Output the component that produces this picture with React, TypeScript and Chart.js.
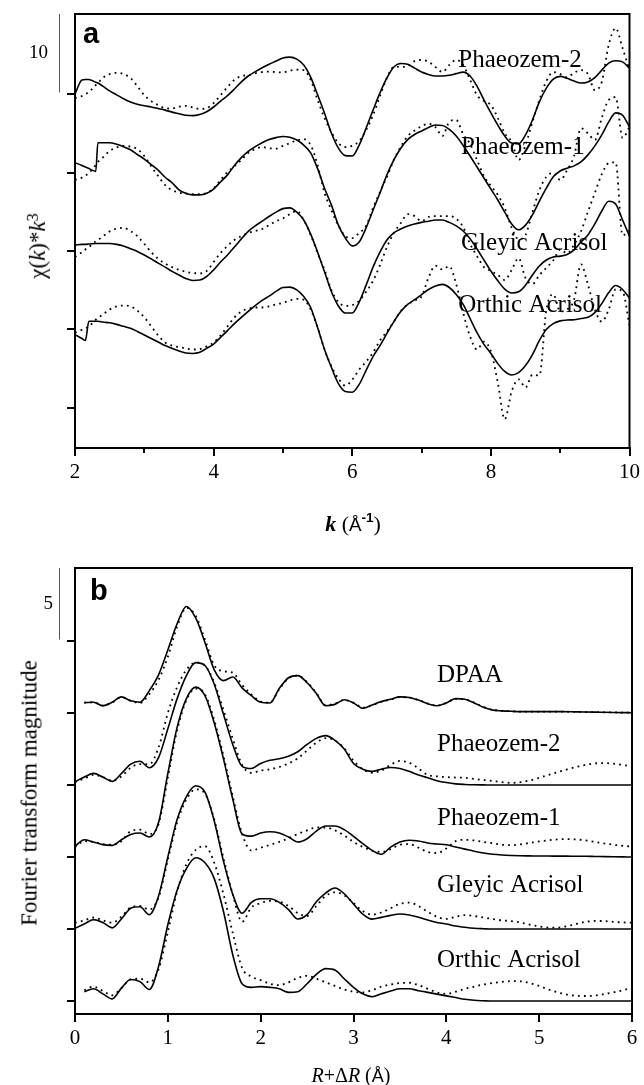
import React, { useEffect, useRef } from 'react';
import { Chart, registerables } from 'chart.js';

Chart.register(...registerables);

const SERIF = '"Liberation Serif", "Times New Roman", serif';
const SANS = '"Liberation Sans", Arial, sans-serif';

// ---------------- Panel a : k-space EXAFS (chi(k)*k^3) ----------------
const kGrid = [
  2.0, 2.1, 2.15, 2.2, 2.3, 2.33, 2.4, 2.5, 2.6, 2.7, 2.8, 2.9,
  3.0, 3.1, 3.2, 3.3, 3.4, 3.5, 3.6, 3.7, 3.8, 3.9,
  4.0, 4.1, 4.2, 4.3, 4.4, 4.5, 4.6, 4.7, 4.8, 4.9,
  5.0, 5.1, 5.2, 5.3, 5.4, 5.5, 5.6, 5.7, 5.8, 5.9,
  6.0, 6.1, 6.2, 6.3, 6.4, 6.5, 6.6, 6.7, 6.8, 6.9,
  7.0, 7.1, 7.2, 7.3, 7.4, 7.5, 7.6, 7.7, 7.8, 7.9,
  8.0, 8.1, 8.2, 8.3, 8.4, 8.5, 8.6, 8.7, 8.8, 8.9,
  9.0, 9.1, 9.2, 9.3, 9.4, 9.5, 9.6, 9.7, 9.8, 9.9,
  10.0,
];

const ph2FitA = [
  0.0, 1.8, 1.85, 1.85, 1.5, 1.4, 1.0, 0.4, -0.1, -0.6, -1.0, -1.3,
  -1.5, -1.65, -1.85, -2.05, -2.3, -2.5, -2.7, -2.75, -2.6, -2.25,
  -1.65, -0.9, -0.2, 0.65, 1.55, 2.3, 2.85, 3.35, 3.8, 4.2,
  4.6, 4.7, 4.45, 3.7, 2.15, -0.1, -2.45, -5.0, -6.9, -7.85,
  -7.9, -6.5, -4.35, -2.05, 0.15, 2.05, 3.45, 3.9, 3.8, 3.3,
  2.8, 2.5, 2.3, 2.3, 2.4, 2.6, 2.8, 2.3, 1.0, -0.75,
  -2.4, -3.95, -5.35, -6.25, -6.35, -5.2, -3.3, -1.0, 0.75, 1.9,
  2.25, 2.0, 1.65, 1.4, 1.55, 2.1, 3.05, 3.95, 4.25, 4.1,
  3.3,
];
const ph2DataA = [
  -0.5, -0.25, 0.0, 0.25, 1.15, 1.4, 2.05, 2.55, 2.7, 2.55, 2.05, 1.0,
  -0.15, -0.9, -1.4, -1.8, -1.85, -1.6, -1.5, -1.7, -1.9, -1.8,
  -1.15, -0.15, 0.9, 1.8, 2.3, 2.4, 2.65, 2.8, 2.85, 2.8,
  2.75, 3.0, 3.1, 3.05, 1.8, -0.75, -3.05, -4.85, -6.25, -6.75,
  -6.6, -6.0, -4.6, -2.7, -0.25, 2.05, 3.45, 3.45, 3.55, 4.2,
  4.35, 4.1, 3.45, 2.8, 3.7, 4.35, 3.7, 1.8, -0.15, -0.9,
  -1.4, -3.05, -5.0, -6.1, -8.4, -6.5, -3.55, -0.75, 1.65, 2.8,
  2.55, 2.15, 2.7, 3.05, 2.55, 0.5, 1.55, 6.25, 8.4, 5.85,
  3.05,
];
const ph1FitA = [
  1.25, 0.9, 0.7, 0.5, 0.15, 3.8, 3.8, 3.8, 3.6, 3.3, 2.9, 2.3,
  1.7, 1.0, 0.3, -0.6, -1.3, -2.2, -2.65, -2.85, -2.85, -2.65,
  -2.1, -1.2, -0.3, 0.9, 1.9, 2.7, 3.3, 3.8, 4.2, 4.45,
  4.6, 4.5, 4.15, 3.5, 2.5, 0.5, -2.0, -4.15, -6.7, -8.35,
  -9.35, -8.85, -7.05, -4.8, -2.6, -0.3, 1.6, 3.1, 4.2, 4.85,
  5.3, 5.75, 6.05, 6.0, 5.5, 4.65, 3.45, 2.1, 0.7, -0.7,
  -2.1, -3.5, -5.05, -6.55, -7.3, -6.7, -5.4, -3.65, -2.0, -0.55,
  0.2, 0.55, 0.85, 1.35, 2.25, 3.4, 4.8, 6.45, 7.6, 7.3,
  5.8,
];
const ph1DataA = [
  -0.95, -0.65, -0.4, -0.05, 0.95, 1.35, 1.9, 2.75, 3.2, 3.4, 3.3, 3.0,
  2.1, 0.8, -0.45, -1.6, -2.25, -2.55, -2.7, -2.75, -2.75, -2.6,
  -2.0, -0.95, 0.05, 0.8, 1.6, 2.5, 3.0, 3.25, 3.1, 3.05,
  3.4, 3.75, 4.1, 4.25, 3.5, 0.95, -2.6, -4.8, -6.8, -8.1,
  -8.35, -7.7, -6.8, -4.5, -2.5, -0.55, 1.6, 3.3, 4.65, 5.35,
  5.9, 6.2, 5.8, 4.65, 6.45, 6.7, 4.9, 3.65, 1.6, -0.45,
  -1.7, -2.85, -4.5, -7.05, -8.5, -7.95, -5.05, -2.25, -0.55, -0.05,
  -0.95, 0.3, 2.1, 5.65, 5.0, 4.15, 6.95, 9.25, 9.6, 4.4,
  5.8,
];
const gleyFitA = [
  0.75, 0.85, 0.85, 0.9, 0.95, 0.95, 0.95, 0.95, 0.85, 0.65, 0.3, -0.05,
  -0.5, -1.0, -1.55, -2.05, -2.6, -3.05, -3.5, -3.75, -3.7, -3.25,
  -2.4, -1.4, -0.5, 0.5, 1.55, 2.5, 3.2, 3.8, 4.4, 4.95,
  5.4, 5.5, 4.95, 3.95, 2.15, -0.15, -2.65, -5.2, -7.0, -7.9,
  -7.9, -6.5, -4.35, -2.05, -0.15, 1.4, 2.3, 2.8, 3.2, 3.45,
  3.65, 3.8, 3.95, 3.95, 3.65, 3.2, 2.55, 1.55, 0.25, -1.15,
  -2.55, -3.8, -4.85, -5.35, -5.2, -4.35, -3.05, -1.9, -1.15, -0.75,
  -0.65, -0.45, 0.15, 1.15, 2.05, 3.45, 5.1, 6.35, 6.0, 3.95,
  1.9,
];
const gleyDataA = [
  -0.75, -0.15, 0.2, 0.5, 1.25, 1.4, 1.85, 2.5, 2.85, 2.95, 2.55, 1.9,
  0.9, -0.15, -1.0, -1.6, -2.05, -2.4, -2.65, -2.8, -2.85, -2.55,
  -1.4, -0.25, 0.65, 1.4, 1.9, 2.3, 2.55, 2.8, 3.3, 3.8,
  4.15, 4.7, 5.1, 3.95, 2.05, -0.25, -2.4, -5.0, -6.5, -7.0,
  -6.9, -6.35, -5.2, -3.8, -1.8, 0.5, 2.3, 3.55, 4.7, 4.45,
  3.8, 4.35, 4.45, 4.45, 4.45, 4.1, 3.05, 0.9, -0.65, -2.05,
  -2.55, -3.05, -3.7, -2.4, -0.9, -3.45, -4.2, -3.05, -2.15, -1.2,
  0.2, -0.3, 0.8, 2.5, 5.0, 7.4, 9.8, 11.2, 11.3, 2.0,
  2.6,
];
const orthFitA = [
  -0.65, -1.15, -1.4, 1.05, 1.05, 1.05, 0.95, 0.85, 0.65, 0.4, 0.15, -0.25,
  -0.7, -1.15, -1.6, -2.05, -2.4, -2.75, -3.0, -3.05, -2.9, -2.4,
  -1.85, -1.0, -0.15, 0.75, 1.55, 2.3, 3.05, 3.7, 4.25, 4.85,
  5.35, 5.4, 5.05, 4.2, 2.8, 0.25, -2.55, -4.85, -6.9, -7.9,
  -8.0, -7.0, -5.2, -3.45, -2.05, -0.5, 1.0, 2.3, 3.2, 3.8,
  4.45, 5.1, 5.55, 5.75, 5.35, 4.45, 3.2, 1.4, -0.4, -1.9,
  -3.05, -4.35, -5.35, -5.8, -5.5, -4.6, -3.2, -1.4, 0.0, 0.75,
  1.1, 1.2, 1.25, 1.4, 1.55, 2.15, 3.3, 4.7, 5.6, 5.1,
  4.0,
];
const orthDataA = [
  -0.4, -0.05, 0.15, 0.4, 1.25, 1.45, 1.9, 2.55, 2.95, 3.05, 2.95, 2.4,
  1.55, 0.4, -0.75, -1.65, -2.05, -2.25, -2.4, -2.55, -2.5, -2.15,
  -1.65, -0.75, 0.4, 1.55, 2.3, 2.65, 2.8, 2.8, 2.95, 3.2,
  3.4, 3.7, 3.9, 3.8, 2.55, 0.25, -2.55, -4.7, -6.25, -7.15,
  -6.4, -5.1, -4.1, -2.95, -1.4, -0.25, 1.0, 2.35, 3.2, 3.7,
  4.2, 6.6, 8.15, 7.65, 8.05, 5.75, 2.15, -0.9, -2.55, -1.55,
  -2.8, -6.75, -11.45, -7.9, -6.35, -7.4, -5.75, -5.85, 2.5, 4.5,
  2.3, 2.55, 3.8, 8.3, 5.75, 2.55, 1.0, 2.55, 5.1, 4.85,
  0.5,
];

const namesA = ['Phaeozem-2', 'Phaeozem-1', 'Gleyic Acrisol', 'Orthic Acrisol'];
const offsetsA = [40, 30, 20, 10];
const labelXA = [7.53, 7.57, 7.57, 7.53];
const labelYA = [44.3, 33.25, 21.0, 13.1];
const yTicksA = [0, 10, 20, 30, 40];
const xMinorA = [3, 5, 7, 9];

// ---------------- Panel b : Fourier transform magnitude ----------------
const rGrid = [
  0.0, 0.1, 0.2, 0.3, 0.4, 0.5, 0.6, 0.7, 0.8, 0.9,
  1.0, 1.1, 1.2, 1.3, 1.4, 1.5, 1.6, 1.7, 1.8, 1.9,
  2.0, 2.1, 2.2, 2.3, 2.4, 2.5, 2.6, 2.7, 2.8, 2.9,
  3.0, 3.1, 3.2, 3.3, 3.4, 3.5, 3.6, 3.7, 3.8, 3.9,
  4.0, 4.1, 4.2, 4.3, 4.4, 4.5, 4.6, 4.7, 4.8, 4.9,
  5.0, 5.1, 5.2, 5.3, 5.4, 5.5, 5.6, 5.7, 5.8, 5.9, 6.0,
];

const dpaaFitB = [
  null, 0.72, 0.75, 0.5, 0.75, 1.12, 0.85, 0.75, 1.55, 2.65,
  4.38, 6.2, 7.4, 6.6, 4.9, 3.0, 2.25, 2.5, 1.75, 1.2,
  0.75, 0.7, 1.7, 2.45, 2.6, 2.1, 1.35, 0.5, 0.6, 0.92,
  0.7, 0.33, 0.55, 0.8, 0.95, 1.12, 1.08, 0.9, 0.65, 0.5,
  0.7, 1.0, 0.95, 0.7, 0.4, 0.2, 0.15, 0.12, 0.1, 0.1,
  0.1, 0.1, 0.1, 0.09, 0.08, 0.07, 0.06, 0.05, 0.04, 0.03, 0.02,
];
const dpaaDataB = [
  null, 0.72, 0.75, 0.52, 0.72, 1.1, 0.85, 0.7, 1.3, 2.3,
  3.9, 6.0, 7.3, 6.75, 5.1, 3.3, 2.9, 2.8, 1.95, 1.3,
  0.8, 0.72, 1.65, 2.4, 2.6, 2.15, 1.4, 0.55, 0.65, 0.9,
  0.72, 0.38, 0.55, 0.78, 0.93, 1.1, 1.08, 0.9, 0.66, 0.52,
  0.7, 0.98, 0.95, 0.72, 0.42, 0.22, 0.15, 0.12, 0.1, 0.1,
  0.1, 0.1, 0.1, 0.09, 0.08, 0.07, 0.06, 0.05, 0.04, 0.03, 0.02,
];
const ph2FitB = [
  0.23, 0.55, 0.81, 0.55, 0.25, 0.8, 1.45, 1.65, 1.2, 1.9,
  3.9, 6.0, 7.6, 8.5, 8.3, 7.0, 4.9, 2.8, 1.3, 1.15,
  1.5, 1.72, 1.82, 2.0, 2.31, 2.82, 3.24, 3.43, 3.1, 2.5,
  1.5, 1.1, 0.95, 1.1, 1.22, 1.15, 0.95, 0.7, 0.5, 0.3,
  0.17, 0.08, 0.04, 0.02, 0.01, 0, 0, 0, 0, 0,
  0, 0, 0, 0, 0, 0, 0, 0, 0, 0, 0,
];
const ph2DataB = [
  0.2, 0.45, 0.7, 0.55, 0.3, 0.6, 1.2, 1.45, 1.45, 2.6,
  5.0, 6.8, 8.0, 8.5, 8.3, 7.1, 5.2, 3.2, 1.4, 0.85,
  1.0, 1.1, 1.25, 1.5, 1.85, 2.4, 2.95, 3.25, 3.1, 2.55,
  1.7, 1.1, 0.85, 1.0, 1.4, 1.67, 1.55, 1.15, 0.7, 0.6,
  0.55, 0.52, 0.5, 0.42, 0.35, 0.28, 0.2, 0.15, 0.2, 0.32,
  0.5, 0.7, 0.9, 1.08, 1.25, 1.4, 1.5, 1.52, 1.48, 1.4, 1.28,
];
const ph1FitB = [
  0.74, 1.2, 1.04, 0.86, 0.81, 1.2, 1.57, 1.67, 1.39, 2.4,
  5.8, 9.0, 11.0, 11.8, 11.2, 9.3, 6.8, 4.0, 1.6, 1.45,
  1.67, 1.76, 1.67, 1.39, 1.04, 1.27, 1.8, 2.15, 2.15, 1.9,
  1.44, 0.93, 0.46, 0.19, 0.69, 1.04, 1.16, 1.11, 0.97, 0.9,
  0.85, 0.7, 0.55, 0.4, 0.28, 0.19, 0.14, 0.11, 0.09, 0.08,
  0.07, 0.07, 0.06, 0.06, 0.05, 0.05, 0.04, 0.03, 0.02, 0.01, 0,
];
const ph1DataB = [
  0.7, 1.1, 1.05, 0.9, 0.85, 1.1, 1.8, 1.9, 1.6, 2.3,
  5.5, 8.8, 10.9, 11.7, 11.3, 9.5, 7.0, 4.2, 1.6, 0.45,
  0.65, 0.85, 1.05, 1.3, 1.6, 1.85, 2.05, 2.05, 1.85, 1.5,
  1.05, 0.7, 0.45, 0.35, 0.55, 0.85, 0.9, 0.65, 0.35, 0.28,
  0.6, 1.1, 1.2, 1.15, 1.05, 0.95, 0.85, 0.82, 0.88, 0.98,
  1.08, 1.17, 1.22, 1.25, 1.22, 1.15, 1.05, 0.95, 0.85, 0.78, 0.72,
];
const gleyFitB = [
  0.05, 0.35, 0.65, 0.45, 0.08, 0.7, 1.45, 1.55, 1.0, 2.3,
  5.0, 7.6, 9.2, 9.95, 9.5, 7.5, 4.7, 2.4, 1.1, 1.85,
  2.1, 2.1, 1.85, 1.35, 0.7, 1.0, 1.9, 2.5, 2.85, 2.45,
  1.74, 1.04, 0.69, 0.81, 0.95, 1.04, 0.98, 0.82, 0.63, 0.46,
  0.35, 0.21, 0.12, 0.05, 0.02, 0, 0, 0, 0, 0,
  0, 0, 0, 0, 0, 0, 0, 0, 0, 0, 0,
];
const gleyDataB = [
  0.44, 0.6, 0.8, 0.6, 0.44, 0.85, 1.5, 1.6, 1.35, 2.2,
  4.8, 7.4, 9.0, 9.7, 9.4, 7.6, 4.9, 2.4, 0.5, 1.5,
  1.8, 1.95, 1.9, 1.6, 1.1, 0.9, 1.6, 2.3, 2.55, 2.35,
  1.8, 1.25, 1.0, 1.15, 1.45, 1.75, 1.83, 1.6, 1.2, 0.85,
  0.7, 0.85, 0.97, 0.9, 0.8, 0.7, 0.6, 0.55, 0.45, 0.3,
  0.18, 0.1, 0.1, 0.2, 0.35, 0.5, 0.56, 0.55, 0.5, 0.46, 0.44,
];
const orthFitB = [
  null, 0.65, 0.85, 0.5, 0.15, 0.9, 1.5, 1.35, 0.8, 2.4,
  5.3, 7.7, 9.2, 9.95, 9.6, 8.5, 6.2, 3.2, 1.2, 0.95,
  1.0, 0.95, 0.85, 0.6, 0.65, 1.2, 1.85, 2.25, 2.15, 1.55,
  0.95, 0.5, 0.3, 0.5, 0.69, 0.85, 0.85, 0.72, 0.6, 0.48,
  0.36, 0.24, 0.12, 0.05, 0.02, 0, 0, 0, 0, 0,
  0, 0, 0, 0, 0, 0, 0, 0, 0, 0, 0,
];
const orthDataB = [
  null, 0.75, 1.0, 0.7, 0.4, 0.9, 1.5, 1.55, 1.3, 2.2,
  4.8, 7.6, 9.5, 10.5, 10.75, 9.6, 7.4, 4.7, 2.3, 1.7,
  1.45, 1.2, 1.1, 1.3, 1.6, 1.75, 1.55, 1.3, 1.05, 0.8,
  0.65, 0.6, 0.75, 1.0, 1.15, 1.25, 1.27, 1.1, 0.85, 0.6,
  0.5, 0.65, 0.85, 1.0, 1.15, 1.25, 1.33, 1.38, 1.37, 1.25,
  1.05, 0.8, 0.6, 0.45, 0.37, 0.35, 0.38, 0.48, 0.6, 0.75, 0.93,
];

const namesB = ['DPAA', 'Phaeozem-2', 'Phaeozem-1', 'Gleyic Acrisol', 'Orthic Acrisol'];
const offsetsB = [20, 15, 10, 5, 0];
const labelXB = [3.9, 3.9, 3.9, 3.9, 3.9];
const labelYB = [22.6, 17.8, 12.7, 8.05, 2.85];
const yTicksB = [0, 5, 10, 15, 20, 25];

// ---------------- helpers ----------------
function toPoints(xs: number[], vals: (number | null)[], off: number) {
  return xs.map((x, i) => ({ x, y: vals[i] == null ? null : (vals[i] as number) + off }));
}

function solidSet(xs: number[], vals: (number | null)[], off: number) {
  return {
    data: toPoints(xs, vals, off),
    borderColor: '#000',
    borderWidth: 1.6,
    pointRadius: 0,
    fill: false,
    cubicInterpolationMode: 'monotone',
    spanGaps: false,
  };
}
function dottedSet(xs: number[], vals: (number | null)[], off: number) {
  return {
    data: toPoints(xs, vals, off),
    borderColor: '#000',
    borderWidth: 1.8,
    borderDash: [1.8, 4.2],
    pointRadius: 0,
    fill: false,
    cubicInterpolationMode: 'monotone',
    spanGaps: false,
  };
}

const decor = {
  id: 'decor',
  afterDraw(chart: any, _args: any, o: any) {
    const { ctx, chartArea: ca, scales } = chart;
    const xs = scales.x;
    const ys = scales.y;
    ctx.save();
    // frame
    ctx.strokeStyle = '#000';
    ctx.lineWidth = 2;
    ctx.strokeRect(ca.left, ca.top, ca.right - ca.left, ca.bottom - ca.top);
    // minor ticks
    (o.minor || []).forEach((v: number) => {
      const px = Math.round(xs.getPixelForValue(v));
      ctx.beginPath();
      ctx.moveTo(px, ca.bottom);
      ctx.lineTo(px, ca.bottom + 5);
      ctx.stroke();
    });
    // scale bar
    const b0 = ys.getPixelForValue(o.bar.from);
    const b1 = ys.getPixelForValue(o.bar.to);
    ctx.strokeStyle = '#555';
    ctx.lineWidth = 1;
    ctx.beginPath();
    ctx.moveTo(ca.left - 15.5, b0);
    ctx.lineTo(ca.left - 15.5, b1);
    ctx.stroke();
    ctx.fillStyle = '#000';
    ctx.font = `19px ${SERIF}`;
    ctx.textAlign = 'right';
    ctx.textBaseline = 'middle';
    ctx.fillText(o.bar.text, ca.left + o.bar.dx, (b0 + b1) / 2);
    // panel letter
    ctx.font = `bold 29px ${SANS}`;
    ctx.textAlign = 'left';
    ctx.textBaseline = 'alphabetic';
    ctx.fillText(o.letter.text, ca.left + o.letter.dx, ca.top + o.letter.dy);
    // series labels
    ctx.font = `25px ${SERIF}`;
    ctx.textBaseline = 'middle';
    o.labels.forEach((l: any) => {
      ctx.fillText(l.text, xs.getPixelForValue(l.x), ys.getPixelForValue(l.y));
    });
    ctx.restore();
  },
};

const gridOpts = {
  display: true,
  drawOnChartArea: false,
  drawTicks: true,
  tickLength: 8,
  color: '#000',
  lineWidth: 2,
};
const borderOpts = { display: true, color: '#000', width: 2 };

function configA(): any {
  const fits = [ph2FitA, ph1FitA, gleyFitA, orthFitA];
  const datas = [ph2DataA, ph1DataA, gleyDataA, orthDataA];
  const datasets: any[] = [];
  fits.forEach((f, i) => {
    datasets.push(dottedSet(kGrid, datas[i], offsetsA[i]));
    datasets.push(solidSet(kGrid, f, offsetsA[i]));
  });
  return {
    type: 'line',
    data: { datasets },
    plugins: [decor],
    options: {
      responsive: false,
      animation: false,
      devicePixelRatio: 1,
      events: [],
      layout: { padding: { top: 14, right: 12, left: 0, bottom: 0 } },
      plugins: {
        legend: { display: false },
        tooltip: { enabled: false },
        decor: {
          minor: xMinorA,
          bar: { from: 40.2, to: 50.2, text: '10', dx: -27 },
          letter: { text: 'a', dx: 8, dy: 29 },
          labels: namesA.map((t, i) => ({ text: t, x: labelXA[i], y: labelYA[i] })),
        },
      },
      scales: {
        x: {
          type: 'linear',
          min: 2,
          max: 10,
          ticks: {
            stepSize: 2,
            autoSkip: false,
            maxRotation: 0,
            padding: 4,
            color: '#000',
            font: { family: SERIF, size: 21 },
          },
          grid: gridOpts,
          border: borderOpts,
          afterFit: (s: any) => {
            s.height = 97;
          },
        },
        y: {
          type: 'linear',
          min: -5.1,
          max: 50.2,
          afterBuildTicks: (s: any) => {
            s.ticks = yTicksA.map((v) => ({ value: v }));
          },
          ticks: { callback: () => '' },
          grid: gridOpts,
          border: borderOpts,
          afterFit: (s: any) => {
            s.width = 75;
          },
        },
      },
    },
  };
}

function configB(): any {
  const fits = [dpaaFitB, ph2FitB, ph1FitB, gleyFitB, orthFitB];
  const datas = [dpaaDataB, ph2DataB, ph1DataB, gleyDataB, orthDataB];
  const datasets: any[] = [];
  fits.forEach((f, i) => {
    datasets.push(dottedSet(rGrid, datas[i], offsetsB[i]));
    datasets.push(solidSet(rGrid, f, offsetsB[i]));
  });
  return {
    type: 'line',
    data: { datasets },
    plugins: [decor],
    options: {
      responsive: false,
      animation: false,
      devicePixelRatio: 1,
      events: [],
      layout: { padding: { top: 23, right: 12, left: 0, bottom: 0 } },
      plugins: {
        legend: { display: false },
        tooltip: { enabled: false },
        decor: {
          minor: [],
          bar: { from: 25.1, to: 30.07, text: '5', dx: -22 },
          letter: { text: 'b', dx: 15, dy: 32 },
          labels: namesB.map((t, i) => ({ text: t, x: labelXB[i], y: labelYB[i] })),
        },
      },
      scales: {
        x: {
          type: 'linear',
          min: 0,
          max: 6,
          ticks: {
            stepSize: 1,
            autoSkip: false,
            maxRotation: 0,
            padding: 4,
            color: '#000',
            font: { family: SERIF, size: 21 },
          },
          grid: gridOpts,
          border: borderOpts,
          afterFit: (s: any) => {
            s.height = 71;
          },
        },
        y: {
          type: 'linear',
          min: -0.9,
          max: 30.07,
          afterBuildTicks: (s: any) => {
            s.ticks = yTicksB.map((v) => ({ value: v }));
          },
          ticks: { callback: () => '' },
          grid: gridOpts,
          border: borderOpts,
          afterFit: (s: any) => {
            s.width = 75;
          },
        },
      },
    },
  };
}

function Panel({ make, top, height }: { make: () => any; top: number; height: number }) {
  const ref = useRef<HTMLCanvasElement | null>(null);
  useEffect(() => {
    if (!ref.current) return;
    const chart = new Chart(ref.current, make());
    return () => chart.destroy();
  }, []);
  return (
    <canvas
      ref={ref}
      width={644}
      height={height}
      style={{ position: 'absolute', left: 0, top, width: 644, height, display: 'block' }}
    />
  );
}

function rotated(cx: number, cy: number, size: number): React.CSSProperties {
  return {
    position: 'absolute',
    left: cx,
    top: cy,
    transform: 'translate(-50%, -50%) rotate(-90deg)',
    fontSize: size,
    fontFamily: SERIF,
    whiteSpace: 'nowrap',
    lineHeight: 1,
    color: '#000',
  };
}
function centered(cx: number, cy: number, size: number): React.CSSProperties {
  return {
    position: 'absolute',
    left: cx,
    top: cy,
    transform: 'translate(-50%, -50%)',
    fontSize: size,
    fontFamily: SERIF,
    whiteSpace: 'nowrap',
    lineHeight: 1,
    color: '#000',
  };
}

export default function App() {
  return (
    <div
      style={{
        position: 'absolute',
        left: 0,
        top: 0,
        width: 644,
        height: 1085,
        background: '#fff',
        overflow: 'hidden',
      }}
    >
      <Panel make={configA} top={0} height={545} />
      <Panel make={configB} top={545} height={540} />
      <div style={rotated(37, 246, 23)}>
        χ(<i>k</i>)*<i>k</i>
        <sup style={{ fontSize: '0.7em', verticalAlign: '0.45em' }}>3</sup>
      </div>
      <div style={rotated(29, 793, 23)}>Fourier transform magnitude</div>
      <div style={centered(353, 523, 22)}>
        <b>
          <i>k</i>
        </b>{' '}
        (<span style={{ fontFamily: SANS, fontSize: '0.85em' }}>Å</span>
        <sup style={{ fontFamily: SANS, fontWeight: 'bold', fontSize: '0.62em', verticalAlign: '0.6em' }}>-1</sup>)
      </div>
      <div style={centered(351, 1075, 20)}>
        <i>R</i>+Δ<i>R</i> (<span style={{ fontFamily: SANS, fontSize: '0.9em' }}>Å</span>)
      </div>
    </div>
  );
}
